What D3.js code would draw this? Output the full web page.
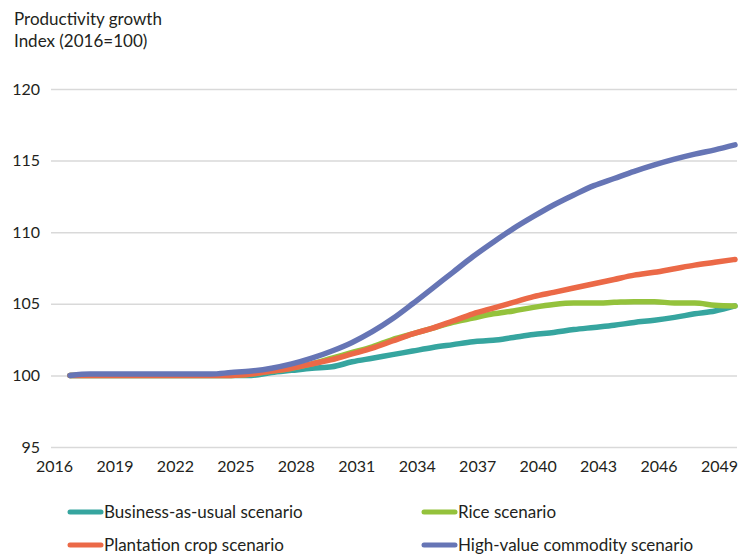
<!DOCTYPE html>
<html>
<head>
<meta charset="utf-8">
<script src="https://cdn.jsdelivr.net/npm/d3@7"></script>
<style>
  body { margin: 0; background: #fff; }
  text { font-family: Lato, "Open Sans", sans-serif; fill: #231f20; }
  .tick line { stroke: #d9d9d9; stroke-width: 1.5; }
  .tick text { font-size: 16px; }
  .legend text { font-size: 17px; }
</style>
</head>
<body>
<div id="main"></div>
<script>
const width = 745;
const height = 556;

const years = d3.range(2016, 2050);
const yTicks = [95, 100, 105, 110, 115, 120];
const xTicks = d3.range(2016, 2050, 3);

const businessAsUsual = [100, 100, 100, 100, 100, 100, 100, 100, 100, 100,
  100.2, 100.35, 100.5, 100.6, 100.95, 101.2, 101.45, 101.7, 101.95, 102.15,
  102.35, 102.45, 102.65, 102.85, 103.0, 103.2, 103.35, 103.5, 103.7, 103.85,
  104.05, 104.3, 104.5, 104.85];
const rice = [100, 100, 100, 100, 100, 100, 100, 100, 100, 100.1,
  100.3, 100.5, 100.8, 101.2, 101.6, 102.0, 102.5, 102.9, 103.3, 103.7,
  104.0, 104.3, 104.5, 104.75, 104.95, 105.05, 105.05, 105.1, 105.15, 105.15,
  105.05, 105.05, 104.9, 104.85];
const plantation = [100, 100, 100, 100, 100, 100, 100, 100, 100, 100.1,
  100.3, 100.5, 100.8, 101.1, 101.5, 101.9, 102.4, 102.9, 103.3, 103.8,
  104.3, 104.7, 105.1, 105.5, 105.8, 106.1, 106.4, 106.7, 107.0, 107.2,
  107.45, 107.7, 107.9, 108.1];
const highValue = [100, 100.1, 100.1, 100.1, 100.1, 100.1, 100.1, 100.1, 100.2, 100.3,
  100.5, 100.8, 101.2, 101.7, 102.3, 103.05, 103.95, 105.0, 106.1, 107.2,
  108.3, 109.3, 110.25, 111.1, 111.9, 112.6, 113.25, 113.75, 114.25, 114.7,
  115.1, 115.45, 115.75, 116.1];

const seriesNames = ['Business-as-usual scenario', 'Rice scenario',
  'Plantation crop scenario', 'High-value commodity scenario'];
const seriesColors = ['#36a59f', '#94c23c', '#eb6947', '#6675b5'];

const series = [businessAsUsual, rice, plantation, highValue].map((values, i) => ({
  name: seriesNames[i],
  color: seriesColors[i],
  values: values.map((v, j) => ({ year: years[j], value: v }))
}));

const svg = d3.select('#main')
  .append('svg')
    .attr('width', width)
    .attr('height', height);

const xScale = d3.scaleLinear()
  .domain([2016, 2049])
  .range([70, 735]);

const yScale = d3.scaleLinear()
  .domain([95, 120])
  .range([447, 89]);

// title
svg.append('text')
    .attr('x', 14)
    .attr('y', 25)
    .style('font-size', '17px')
    .text('Productivity growth');
svg.append('text')
    .attr('x', 14)
    .attr('y', 47)
    .style('font-size', '17px')
    .text('Index (2016=100)');

// y axis with gridlines
const yAxis = d3.axisLeft(yScale)
  .tickValues(yTicks)
  .tickSize(-(737 - 51))
  .tickPadding(11);

const yAxisG = svg.append('g')
    .attr('transform', 'translate(51,0)')
    .call(yAxis);
yAxisG.select('.domain').remove();

// x axis (labels sit a bit left of the data points, like the source)
const xAxis = d3.axisBottom(xScale)
  .tickValues(xTicks)
  .tickFormat(d3.format('d'))
  .tickSize(0)
  .tickPadding(0);

const xAxisG = svg.append('g')
    .attr('transform', 'translate(-16,472)')
    .call(xAxis);
xAxisG.select('.domain').remove();
xAxisG.selectAll('text').attr('dy', 0);

// lines
const line = d3.line()
  .x(d => xScale(d.year))
  .y(d => yScale(d.value))
  .curve(d3.curveMonotoneX);

svg.append('g')
  .selectAll('path')
  .data(series)
  .join('path')
    .attr('fill', 'none')
    .attr('stroke', d => d.color)
    .attr('stroke-width', 5.5)
    .attr('stroke-linecap', 'round')
    .attr('stroke-linejoin', 'round')
    .attr('d', d => line(d.values));

// legend
const legendPos = [[68, 512], [422, 512], [68, 545], [422, 545]];
const legend = svg.append('g')
    .attr('class', 'legend')
  .selectAll('g')
  .data(series)
  .join('g')
    .attr('transform', (d, i) => `translate(${legendPos[i][0]},${legendPos[i][1]})`);

legend.append('line')
    .attr('x1', 2)
    .attr('x2', 33)
    .attr('stroke', d => d.color)
    .attr('stroke-width', 5)
    .attr('stroke-linecap', 'round');

legend.append('text')
    .attr('x', 36)
    .attr('y', 6)
    .text(d => d.name);
</script>
</body>
</html>
